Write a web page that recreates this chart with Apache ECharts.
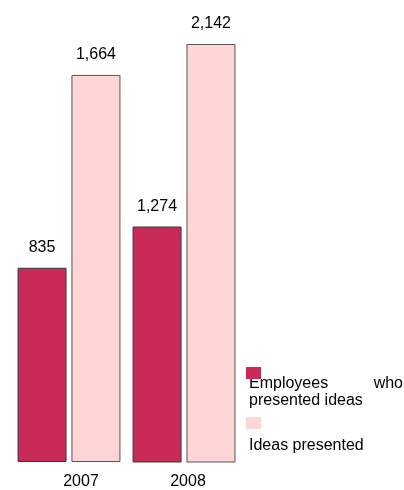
<!DOCTYPE html>
<html>
<head>
<meta charset="utf-8">
<script src="https://cdn.jsdelivr.net/npm/echarts@6/dist/echarts.min.js"></script>
<style>
  html, body { margin: 0; padding: 0; background: #fff; }
  #chart { width: 404px; height: 490px; }
</style>
</head>
<body>
<div id="chart"></div>
<script>
// data
const years = ['2007', '2008']
const seriesNames = ['Employees who presented ideas', 'Ideas presented']
const employees = [835, 1274]
const ideas = [1664, 2142]
// the source draws each year on its own scale
const yearMin = [0, 154]
const yearMax = [1797, 2142]

const colors = ['#c92b59', '#ffd5d6']
const borders = ['#3a3a3a', '#555555']
const font = 'Arial, "Liberation Sans", sans-serif'

const chart = echarts.init(document.getElementById('chart'))

const grids = []
const xAxes = []
const yAxes = []
const series = []
const labelShift = [24, 8]

years.forEach((year, i) => {
  grids.push({ left: 11 + i * 115, width: 116, top: 44, bottom: 24 })
  xAxes.push({
    type: 'category',
    gridIndex: i,
    data: [year],
    axisLine: { show: false },
    axisTick: { show: false },
    axisLabel: {
      color: '#000',
      fontSize: 16,
      fontFamily: font,
      margin: 12,
      padding: [0, 0, 0, labelShift[i]],
    },
  })
  yAxes.push({
    type: 'value',
    gridIndex: i,
    min: yearMin[i],
    max: yearMax[i],
    show: false,
    splitLine: { show: false },
  })
  ;[employees, ideas].forEach((vals, s) => {
    series.push({
      name: seriesNames[s],
      type: 'bar',
      xAxisIndex: i,
      yAxisIndex: i,
      data: [vals[i]],
      barWidth: 49,
      barGap: '10%',
      itemStyle: { color: colors[s], borderColor: borders[s], borderWidth: 1 },
      label: {
        show: true,
        position: 'top',
        distance: 12,
        color: '#000',
        fontSize: 16,
        fontFamily: font,
        formatter: (p) => p.value.toLocaleString('en-US'),
      },
    })
  })
})

const legendBase = {
  left: 246,
  padding: 0,
  itemWidth: 15,
  itemHeight: 12,
  icon: 'rect',
  selectedMode: false,
  formatter: () => '',
  itemStyle: { borderWidth: 0 },
}

chart.setOption({
  animation: false,
  grid: grids,
  xAxis: xAxes,
  yAxis: yAxes,
  series: series,
  legend: [
    { ...legendBase, data: [seriesNames[0]], top: 367 },
    { ...legendBase, data: [seriesNames[1]], top: 417 },
  ],
  graphic: [
    { type: 'text', left: 249, top: 376, style: { text: 'Employees', font: '16px ' + font, fill: '#000' } },
    { type: 'text', right: 1, top: 376, style: { text: 'who', font: '16px ' + font, fill: '#000' } },
    { type: 'text', left: 249, top: 393, style: { text: 'presented ideas', font: '16px ' + font, fill: '#000' } },
    { type: 'text', left: 249, top: 438, style: { text: 'Ideas presented', font: '16px ' + font, fill: '#000' } },
  ],
})
</script>
</body>
</html>
